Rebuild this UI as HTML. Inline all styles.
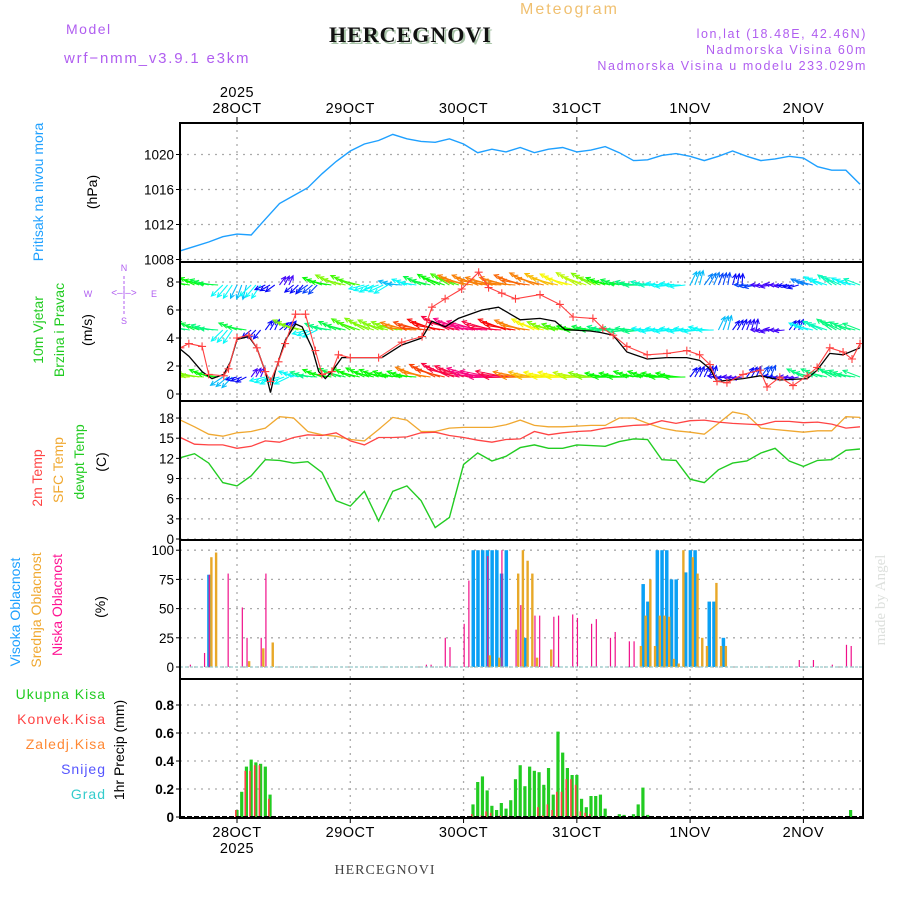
<!DOCTYPE html>
<html><head><meta charset="utf-8"><style>
html,body{margin:0;padding:0;background:#fff;width:900px;height:900px;overflow:hidden}
svg{display:block}
text{font-family:"Liberation Sans",sans-serif}
</style></head><body>
<svg id="chart" width="900" height="900" viewBox="0 0 900 900" xmlns="http://www.w3.org/2000/svg">
<rect x="0" y="0" width="900" height="900" fill="#fff"/>
<text x="66" y="34" font-size="14" fill="#b05ef0" letter-spacing="1.5">Model</text>
<text x="64" y="63" font-size="15" fill="#b05ef0" letter-spacing="1.8">wrf−nmm_v3.9.1 e3km</text>
<text x="331" y="44" font-size="22" font-weight="bold" style="font-family:'Liberation Serif',serif" fill="#a8c4a8" letter-spacing="1">HERCEGNOVI</text>
<text x="329" y="42" font-size="22" font-weight="bold" style="font-family:'Liberation Serif',serif" fill="#111" letter-spacing="1">HERCEGNOVI</text>
<text x="520" y="14" font-size="16" fill="#f0c070" letter-spacing="2">Meteogram</text>
<text x="867" y="38" font-size="12.5" fill="#b05ef0" text-anchor="end" letter-spacing="1.6">lon,lat (18.48E, 42.46N)</text>
<text x="867" y="54" font-size="12.5" fill="#b05ef0" text-anchor="end" letter-spacing="1.6">Nadmorska Visina 60m</text>
<text x="867" y="70" font-size="12.5" fill="#b05ef0" text-anchor="end" letter-spacing="1.6">Nadmorska Visina u modelu 233.029m</text>
<text x="385" y="874" font-size="14" style="font-family:'Liberation Serif',serif" fill="#444" text-anchor="middle" letter-spacing="1">HERCEGNOVI</text>
<text transform="translate(885,600) rotate(-90)" font-size="15" style="font-family:'Liberation Serif',serif" fill="#dde0dd" text-anchor="middle">made by Angel</text>

<g font-size="14">
<text transform="translate(43,192) rotate(-90)" fill="#1ea0ff" text-anchor="middle">Pritisak na nivou mora</text>
<text transform="translate(97,192) rotate(-90)" fill="#000" text-anchor="middle">(hPa)</text>
<text transform="translate(43,330) rotate(-90)" fill="#22cc22" text-anchor="middle">10m Vjetar</text>
<text transform="translate(64,330) rotate(-90)" fill="#22cc22" text-anchor="middle">Brzina i Pravac</text>
<text transform="translate(92,330) rotate(-90)" fill="#000" text-anchor="middle">(m/s)</text>
<text transform="translate(42,478) rotate(-90)" fill="#ff4444" text-anchor="middle">2m Temp</text>
<text transform="translate(63,470) rotate(-90)" fill="#f0a830" text-anchor="middle">SFC Temp</text>
<text transform="translate(84,462) rotate(-90)" fill="#22cc22" text-anchor="middle">dewpt Temp</text>
<text transform="translate(106,462) rotate(-90)" fill="#000" text-anchor="middle">(C)</text>
<text transform="translate(20,612) rotate(-90)" fill="#1ea0ff" text-anchor="middle">Visoka Oblacnost</text>
<text transform="translate(41,610) rotate(-90)" fill="#f0a830" text-anchor="middle">Srednja Oblacnost</text>
<text transform="translate(62,605) rotate(-90)" fill="#ff1493" text-anchor="middle">Niska Oblacnost</text>
<text transform="translate(105,607) rotate(-90)" fill="#000" text-anchor="middle">(%)</text>
<text transform="translate(124,750) rotate(-90)" fill="#000" text-anchor="middle">1hr Precip (mm)</text>
</g>
<g font-size="14" text-anchor="end" letter-spacing="1">
<text x="106" y="699" fill="#22cc22">Ukupna Kisa</text>
<text x="106" y="724" fill="#ff4444">Konvek.Kisa</text>
<text x="106" y="749" fill="#ff8833">Zaledj.Kisa</text>
<text x="106" y="774" fill="#5555ff">Snijeg</text>
<text x="106" y="799" fill="#33cccc">Grad</text>
</g>
<g fill="#b05ef0" font-size="9" text-anchor="middle">
<text x="124" y="271">N</text><text x="124" y="324">S</text><text x="88" y="297">W</text><text x="154" y="297">E</text>
<text x="124" y="296" font-size="10">&lt;–|–&gt;</text>
<line x1="124" y1="276" x2="124" y2="315" stroke="#b05ef0" stroke-width="1" stroke-dasharray="3,2"/>
</g>
<g id="plot"></g>
</svg>
<script>
// ---------- data ----------
const pressureHours = [0,3,6,9,12,15,18,21,24,27,30,33,36,39,42,45,48,51,54,57,60,63,66,69,72,75,78,81,84,87,90,93,96,99,102,105,108,111,114,117,120,123,126,129,132,135,138,141,144];
const pressureValues = [1009.0,1009.5,1010.0,1010.6,1010.9,1010.8,1012.6,1014.4,1015.3,1016.2,1017.8,1019.2,1020.4,1021.2,1021.6,1022.3,1021.8,1021.5,1021.4,1021.8,1021.2,1020.2,1020.6,1020.3,1020.8,1020.2,1020.6,1020.8,1020.3,1020.5,1020.9,1020.2,1019.3,1019.4,1019.9,1020.1,1019.8,1019.3,1019.8,1020.4,1019.8,1019.3,1019.5,1019.8,1019.6,1018.6,1018.2,1018.2,1016.6];
const pressureTicks = [1008,1012,1016,1020];

const windSpeedHours = [0,1.8,4.6,6.7,9.2,10.6,12,14.5,16.2,18,19.1,20.1,22.2,24.4,25.8,27.9,29.3,30.7,32.1,34.2,42.7,46.9,51.2,53.3,56.1,58.9,63.9,67.4,72,76.2,79.4,81.5,86.8,88.9,91.7,94.6,98.9,103,107.3,110,112.2,113.7,119.2,122.8,127,132.8,134.9,137.6,140.4,144];
const windSpeedValues = [3.2,2.7,1.6,1.1,1.4,2.3,3.9,4.1,3.3,1.6,0.1,1.6,3.8,5.0,4.8,3.3,1.6,1.1,1.6,2.6,2.6,3.5,4.0,5.2,4.8,5.4,6.0,6.2,5.3,5.4,5.2,4.6,4.5,4.4,4.2,3.0,2.5,2.6,2.6,2.4,1.8,0.9,1.1,1.3,1.0,1.1,1.7,2.9,2.8,3.3];
const gustHours = [0,1.8,4.6,6,9.2,10.2,12,14.5,16.2,18,19.1,20.8,22.2,24.4,26.5,28.6,30,32.1,33.5,36,42,46.9,51.2,53.3,56.1,59.6,63.2,65.3,68.1,71,76.2,80.4,83.2,87.4,89.5,91.7,94.6,98.9,103.1,107.3,110,112.2,113.7,115.8,119.2,122.8,124.3,127,129.8,132.8,134.9,137.6,140.4,142.3,144];
const gustValues = [3.3,3.6,3.4,1.4,1.3,1.8,4.0,4.2,3.3,1.6,0.9,2.3,3.6,5.7,5.7,3.1,1.4,1.6,2.8,2.6,2.6,3.7,4.1,6.2,6.8,7.5,8.7,7.6,7.2,6.8,7.1,6.4,5.5,5.4,4.7,4.2,3.4,2.8,2.9,3.1,2.8,2.1,0.9,0.8,1.4,1.7,0.5,1.2,0.6,1.3,1.9,3.3,3.0,2.5,3.6];
const windTicks = [0,2,4,6,8];
const arrowHours = pressureHours;
const arrowTopSpeed = [5,5,4.5,3,2.5,3,1,0.5,1,1.5,5,6,5.5,3,3,2.5,3,4.5,5,5.5,8,8,8,8,8.2,8,7.5,7,6.5,6,5,4.5,4,3.5,3,3,2.5,2,1.5,1,1.5,0.5,0.5,1,2,3,3.5,3,3.5];
const arrowTopDir = [165,160,170,230,250,230,210,60,225,220,165,160,160,200,205,170,165,160,155,155,165,165,170,170,165,160,160,160,155,155,165,170,175,175,180,180,70,60,75,80,185,185,180,190,160,155,150,160,165];
const arrowMidSpeed = [4,4.5,4,3,4.5,1,1,1,6,3,4,4.5,5.5,6,6,6,8,8.5,9,9.5,10,10,9.5,9,8,7,6,5.5,5,4.5,4,4,4,3,3,3,3,3,2.5,1,0.8,0.5,0.5,1,3,3.5,4,4,4];
const arrowMidDir = [165,160,170,230,165,225,60,45,160,200,165,160,155,155,160,165,170,170,165,160,165,170,170,165,165,160,165,170,175,175,175,180,180,180,180,180,180,175,70,60,75,185,180,60,160,155,150,160,165];
const arrowBotSpeed = [6.5,6,5,2.5,1,0.5,3,3,3,4,5,4.5,5,5,5,5,5,8,8.5,9.5,9.5,10,10,9.5,8,7.5,7,7,6.5,6,5,5,5,5,5,5,1,1,0.8,0.5,1,1.5,1,0.5,4,4,4,4,4];
const arrowBotDir = [175,170,165,220,200,60,200,200,165,170,165,160,160,160,165,170,170,165,160,160,165,170,175,175,175,175,175,175,175,175,175,175,170,170,175,175,60,70,180,185,60,60,180,185,160,160,155,165,165];

const tempHours = pressureHours;
const temp2m = [15.1,14.1,14.0,14.0,13.5,13.8,14.6,14.4,15.1,15.5,15.4,15.8,14.6,14.0,15.1,15.1,15.2,15.8,15.9,15.4,15.1,14.7,14.4,14.8,14.9,16.0,15.5,15.8,16.0,16.1,16.5,16.7,16.9,17.0,17.6,17.2,17.6,17.7,17.4,17.2,17.1,17.0,17.5,17.5,17.3,17.4,17.1,16.5,16.7];
const tempSfc = [17.7,16.7,15.6,15.3,15.8,16.0,16.5,18.2,18.0,16.0,15.5,15.3,14.8,14.6,16.3,18.1,17.7,16.0,16.0,16.5,16.6,16.6,16.6,17.0,17.7,16.9,16.7,16.7,16.8,16.9,16.9,18.0,18.0,17.2,16.5,16.1,15.9,15.6,17.2,18.9,18.5,16.5,16.3,16.1,15.9,16.1,16.1,18.2,18.1];
const tempDew = [12.1,12.7,11.3,8.4,7.9,9.4,11.8,11.7,11.3,11.5,9.9,5.7,4.9,7.1,2.7,7.1,7.9,5.7,1.7,3.2,11.1,12.8,11.6,12.3,13.6,14.0,13.5,13.5,14.0,13.9,13.8,14.5,14.9,14.8,11.8,11.7,8.9,8.4,10.3,11.3,11.6,12.8,13.5,11.6,10.8,11.7,11.8,13.2,13.4];
const tempTicks = [3,6,9,12,15,18];

const cloudLowHours = [2,5,6,10,13,14,17,18,52,53,56,57,60,61,65,68,71,72,75,76,79,80,83,84,87,88,91,92,95,96,131,134,138,141,142];
const cloudLowValues = [2,12,79,80,51,25,25,80,2,2,25,17,37,74,95,100,32,53,44,44,43,44,45,42,37,41,25,30,22,22,6,6,2,19,18];
const cloudHighHours = [6,62,63,64,65,66,67,68,69,73,98,99,101,102,103,104,105,107,108,109,112,113,115];
const cloudHighValues = [79,100,100,100,100,100,100,80,100,25,71,56,100,100,100,75,75,81,100,100,56,56,25];
const cloudMidHours = [6,7,14,17,19,65,67,71,72,73,74,75,78,97,98,99,100,101,102,103,104,105,106,108,109,110,111,113,114,115];
const cloudMidValues = [94,98,5,16,21,10,8,80,100,91,80,8,15,18,44,75,18,44,44,43,7,3,100,94,80,25,18,72,18,18];
const cloudTicks = [0,25,50,75,100];

const precipHours = [12,13,14,15,16,17,18,19,62,63,64,65,66,67,68,69,70,71,72,73,74,75,76,77,78,79,80,81,82,83,84,85,86,87,88,89,90,93,94,96,97,98,99,142];
const precipTotal = [0.05,0.18,0.36,0.41,0.39,0.38,0.36,0.16,0.09,0.25,0.29,0.19,0.08,0.05,0.10,0.06,0.12,0.27,0.37,0.22,0.36,0.33,0.32,0.23,0.35,0.16,0.61,0.46,0.35,0.30,0.30,0.13,0.07,0.15,0.15,0.16,0.06,0.02,0.015,0.02,0.09,0.21,0.015,0.05];
const precipConv = [0.05,0,0.33,0.33,0.37,0.37,0,0.13,0.02,0,0.01,0.04,0.03,0,0.01,0,0.01,0,0,0,0,0,0.07,0.01,0.09,0.05,0.18,0.18,0.27,0.27,0.23,0.04,0.03,0.02,0,0,0,0,0,0,0,0,0,0];
const precipTicks = [0,0.2,0.4,0.6,0.8];
const precipTickLabels = ["0","0.2","0.4","0.6","0.8"];

const dayHours = [12,36,60,84,108,132];
const dayLabels = ["28OCT","29OCT","30OCT","31OCT","1NOV","2NOV"];

// ---------- geometry ----------
const X0 = 180, X1 = 863;
const xS = h => 237 + (h - 12) * 4.72;
const panels = [123, 262, 401, 540, 679, 818];
const yP = v => 154.5 - (v - 1020) * 8.75;
const yW = v => 394 - v * 14;
const yT = v => 539 - v * 6.72;
const yC = v => 667 - v * 1.168;
const yR = v => 817 - v * 140;

const NS = "http://www.w3.org/2000/svg";
const plot = document.getElementById("plot");
function mk(tag, attrs, parent) {
  const e = document.createElementNS(NS, tag);
  for (const k in attrs) e.setAttribute(k, attrs[k]);
  (parent || plot).appendChild(e);
  return e;
}

const grid = mk("g", {});


dayHours.forEach(h => {
  mk("line", {x1: xS(h), x2: xS(h), y1: 123, y2: 818, stroke: "#aaa", "stroke-width": 1.3, "stroke-dasharray": "2,5"}, grid);
});
function hgrid(ticks, f, fmt, name, bold) {
  const g = mk("g", {});
  
  
  ticks.forEach((t, i) => {
    const y = f(t);
    mk("line", {x1: X0, x2: X1, y1: y, y2: y, stroke: "#aaa", "stroke-width": 1.3, "stroke-dasharray": "2,5"}, g);
    mk("line", {x1: X0 - 4, x2: X0, y1: y, y2: y, stroke: "#000", "stroke-width": 1}, g);
    const tx = mk("text", {x: X0 - 6, y: y + 5, "font-size": 13.5, "text-anchor": "end", fill: "#000", "font-weight": bold ? "bold" : "normal"}, g);
    tx.textContent = fmt(t, i);
  });
}
hgrid(pressureTicks, yP, t => String(t), "pressure-y-axis");
hgrid(windTicks, yW, t => String(t), "wind-y-axis");
hgrid(tempTicks.concat([0]), yT, t => String(t), "temp-y-axis");
hgrid(cloudTicks, yC, t => String(t), "cloud-y-axis");
hgrid(precipTicks, yR, (t, i) => precipTickLabels[i], "precip-y-axis", true);

const xl = mk("g", {"font-size": 14.5, "text-anchor": "middle", fill: "#000", "letter-spacing": "0.5"});


dayHours.forEach((h, i) => {
  const a = mk("text", {x: xS(h), y: 113}, xl); a.textContent = dayLabels[i];
  const b = mk("text", {x: xS(h), y: 837}, xl); b.textContent = dayLabels[i];
  mk("line", {x1: xS(h), x2: xS(h), y1: 117, y2: 123, stroke: "#000"}, xl);
  mk("line", {x1: xS(h), x2: xS(h), y1: 818, y2: 823, stroke: "#000"}, xl);
});
const y1t = mk("text", {x: xS(12), y: 97}, xl); y1t.textContent = "2025";
const y2t = mk("text", {x: xS(12), y: 853}, xl); y2t.textContent = "2025";

const defs = mk("defs", {});
panels.slice(0, 5).forEach((t, i) => {
  const c = mk("clipPath", {id: "clip" + i}, defs);
  mk("rect", {x: X0, y: t, width: X1 - X0, height: panels[i + 1] - t}, c);
});

function line(hours, vals, f, color, name, clip, w) {
  const pts = hours.slice(0, vals.length).map((h, i) => xS(h).toFixed(1) + "," + f(vals[i]).toFixed(1)).join(" ");
  const p = mk("polyline", {points: pts, fill: "none", stroke: color, "stroke-width": w || 1.3, "clip-path": "url(#clip" + clip + ")"});
  
  
  return p;
}

line(pressureHours, pressureValues, yP, "#1ea0ff", "pressure-line", 0, 1.4);

function hueColor(s) {
  let h = 270 - s * 30; if (h < 0) h += 360;
  return "hsl(" + h + ",95%,50%)";
}
const arrowsG = mk("g", {"clip-path": "url(#clip1)"});


function arrowRow(speeds, dirs, baseY, name) {
  const g = mk("g", {}, arrowsG);
  
  
  for (let i = 0; i < Math.min(speeds.length, dirs.length); i++) {
    for (let k = 0; k < 3; k++) {
      const h = arrowHours[i] + k;
      if (h > 144) break;
      const s = speeds[i], d = (dirs[i] + (k - 1) * 6) * Math.PI / 180;
      const L = 9 + s * 2.3;
      const x0 = xS(h), y0 = baseY;
      const x1 = x0 + L * Math.cos(d), y1 = y0 - L * Math.sin(d);
      const col = hueColor(s);
      const a = mk("g", {stroke: col, "stroke-width": 1.1, fill: "none"}, g);
      
      
      mk("line", {x1: x0, y1: y0, x2: x1, y2: y1}, a);
      const ha = 0.45;
      mk("polyline", {points: (x1 - 5 * Math.cos(d - ha)) + "," + (y1 + 5 * Math.sin(d - ha)) + " " + x1 + "," + y1 + " " + (x1 - 5 * Math.cos(d + ha)) + "," + (y1 + 5 * Math.sin(d + ha))}, a);
    }
  }
}
arrowRow(arrowTopSpeed, arrowTopDir, 285, "wind-arrows-top");
arrowRow(arrowMidSpeed, arrowMidDir, 330, "wind-arrows-middle");
arrowRow(arrowBotSpeed, arrowBotDir, 377, "wind-arrows-bottom");

line(windSpeedHours, windSpeedValues, yW, "#000", "wind-speed-line", 1, 1.3);
line(gustHours, gustValues, yW, "#ff4040", "wind-gust-line", 1, 1.1);
const gm = mk("g", {stroke: "#ff4040", "stroke-width": 1.1, "clip-path": "url(#clip1)"});


gustHours.forEach((h, i) => {
  const x = xS(h), y = yW(gustValues[i]);
  mk("path", {d: "M" + (x - 4) + "," + y + "h8M" + x + "," + (y - 4) + "v8"}, gm);
});

line(tempHours, tempSfc, yT, "#f0a830", "sfc-temp-line", 2, 1.3);
line(tempHours, temp2m, yT, "#ff4444", "temp-2m-line", 2, 1.3);
line(tempHours, tempDew, yT, "#22cc22", "dewpoint-line", 2, 1.4);

function bars(hours, vals, f, color, w, off, name, clip) {
  const g = mk("g", {fill: color, "clip-path": "url(#clip" + clip + ")"});
  
  
  hours.forEach((h, i) => {
    const v = vals[i]; if (!v) return;
    const y = f(v), y0 = f(0);
    const r = mk("rect", {x: xS(h) + off, y: y, width: w, height: Math.max(0.5, y0 - y)}, g);
    
    
  });
}
bars(cloudHighHours, cloudHighValues, yC, "#0aa0f5", 3.5, -1.5, "cloud-high", 3);
bars(cloudMidHours, cloudMidValues, yC, "#e8a828", 2.4, 1.5, "cloud-mid", 3);
bars(cloudLowHours, cloudLowValues, yC, "#f0108a", 1.2, 0, "cloud-low", 3);
mk("line", {x1: X0, x2: X1, y1: yC(0), y2: yC(0), stroke: "#9cc", "stroke-width": 1.2, "stroke-dasharray": "3,2"});

bars(precipHours, precipTotal, yR, "#22cc22", 3.2, -1.6, "precip-total", 4);
bars(precipHours, precipConv, yR, "#ff4444", 1.6, -2, "precip-convective", 4);
mk("line", {x1: X0, x2: X1, y1: yR(0), y2: yR(0), stroke: "#000", "stroke-width": 2, "stroke-dasharray": "5,2"});

const fr = mk("g", {fill: "none", stroke: "#000", "stroke-width": 2});


mk("rect", {x: X0, y: 123, width: X1 - X0, height: 818 - 123}, fr);
panels.slice(1, 5).forEach(y => mk("line", {x1: X0, x2: X1, y1: y, y2: y}, fr));
</script>
</body></html>
